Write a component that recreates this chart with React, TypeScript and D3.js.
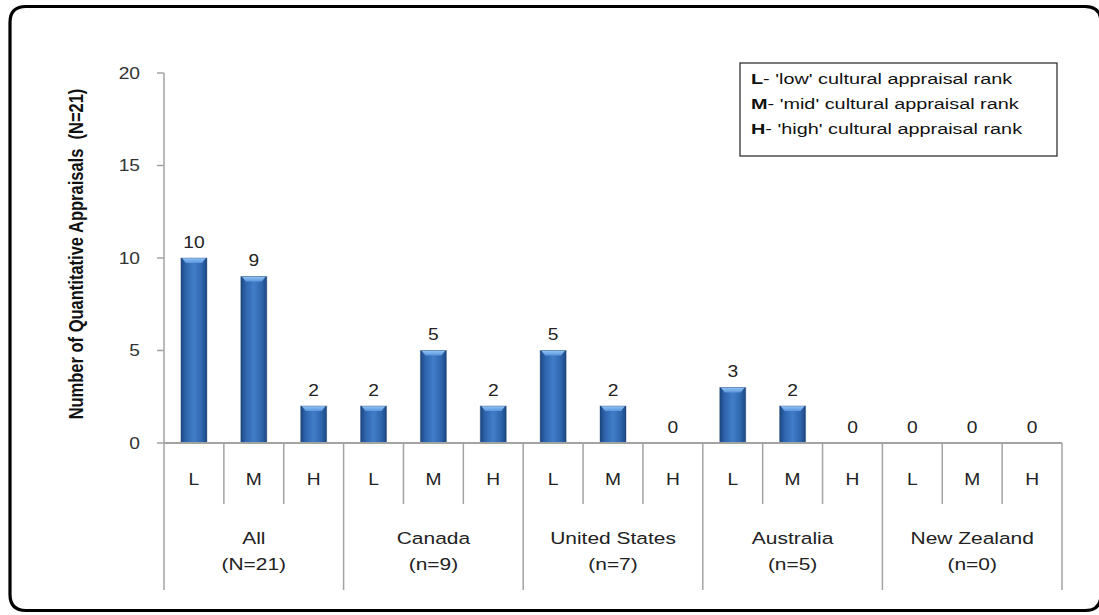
import React from "react";
import * as d3 from "d3";

const groups = ["All", "Canada", "United States", "Australia", "New Zealand"];
const groupCounts = ["(N=21)", "(n=9)", "(n=7)", "(n=5)", "(n=0)"];
const ranks = ["L", "M", "H"];
const counts = [
  [10, 9, 2],
  [2, 5, 2],
  [5, 2, 0],
  [3, 2, 0],
  [0, 0, 0],
];
const yTicks = [0, 5, 10, 15, 20];
const legendLines = [
  { key: "L", text: "- 'low' cultural appraisal rank" },
  { key: "M", text: "- 'mid' cultural appraisal rank" },
  { key: "H", text: "- 'high' cultural appraisal rank" },
];

const W = 1099;
const H = 615;
const left = 164;
const right = 1062;
const top = 73;
const bottom = 443;
const FONT = "'Liberation Sans', Arial, sans-serif";
const SX = 1.2; // wide lettering

type TProps = {
  x: number;
  y: number;
  size: number;
  sx?: number;
  anchor?: "start" | "middle" | "end";
  weight?: string;
  fill?: string;
  children: React.ReactNode;
};

function T({ x, y, size, sx = SX, anchor = "middle", weight = "normal", fill = "#222", children }: TProps) {
  return (
    <text
      transform={`translate(${x},${y}) scale(${sx},1)`}
      dy="0.36em"
      textAnchor={anchor}
      fontSize={size}
      fontWeight={weight}
      fill={fill}
      style={{ whiteSpace: "pre" }}
    >
      {children}
    </text>
  );
}

export default function App() {
  const cells = groups.flatMap((g, gi) =>
    ranks.map((r, ri) => ({ id: `${gi}-${ri}`, group: gi, rank: r, value: counts[gi][ri] }))
  );
  const x = d3.scaleBand<string>().domain(cells.map((c) => c.id)).range([left, right]);
  const y = d3.scaleLinear().domain([0, 20]).range([bottom, top]);
  const bw = x.bandwidth();
  const barW = 26;
  const groupW = bw * 3;
  const axisColor = "#a3a3a3";

  const fx0 = 10;
  const fy0 = 6.5;
  const fx1 = 1101;
  const fy1 = 610.5;
  const r = 16;
  const framePath = `M${fx0 + r},${fy0} H${fx1 - r} Q${fx1},${fy0} ${fx1},${fy0 + r} V${fy1 - r} Q${fx1},${fy1} ${fx1 - r},${fy1} H${fx0 + r} Q${fx0},${fy1} ${fx0},${fy1 - r} V${fy0 + r} Q${fx0},${fy0} ${fx0 + r},${fy0} Z`;

  return (
    <svg
      width={W}
      height={H}
      style={{ position: "absolute", left: 0, top: 0, display: "block", background: "#fff" }}
      fontFamily={FONT}
    >
      <defs>
        <linearGradient id="barFill" x1="0" x2="1" y1="0" y2="0">
          <stop offset="0" stopColor="#1c4680" />
          <stop offset="0.2" stopColor="#2f66ae" />
          <stop offset="0.5" stopColor="#417dc8" />
          <stop offset="0.8" stopColor="#2f66ae" />
          <stop offset="1" stopColor="#1c4680" />
        </linearGradient>
        <linearGradient id="barTop" x1="0" x2="0" y1="0" y2="1">
          <stop offset="0" stopColor="#93c4f6" />
          <stop offset="1" stopColor="#5a95dc" />
        </linearGradient>
      </defs>

      {/* rounded outer frame */}
      <path d={framePath} fill="none" stroke="#000" strokeWidth={3.2} />

      {/* y axis */}
      <line x1={left} x2={left} y1={top} y2={bottom} stroke={axisColor} strokeWidth={1.5} />
      {yTicks.map((t) => (
        <g key={t}>
          <line x1={left - 7} x2={left} y1={y(t)} y2={y(t)} stroke={axisColor} strokeWidth={1.5} />
          <T x={left - 24} y={y(t)} size={16} anchor="end" fill="#333">
            {t}
          </T>
        </g>
      ))}
      <text
        transform={`translate(76,${(top + bottom) / 2 - 4}) rotate(-90) scale(1,${SX})`}
        dy="0.36em"
        textAnchor="middle"
        fontSize={16.5}
        fontWeight="bold"
        fill="#111"
        style={{ whiteSpace: "pre" }}
      >
        {"Number of Quantitative Appraisals  (N=21)"}
      </text>

      {/* bars */}
      {cells.map((c) => {
        const cx = (x(c.id) as number) + bw / 2;
        const yt = y(c.value);
        const h = bottom - yt;
        const bx = cx - barW / 2;
        return (
          <g key={c.id}>
            {c.value > 0 && (
              <g>
                <rect x={bx} y={yt} width={barW} height={h} fill="url(#barFill)" />
                <polygon
                  points={`${bx + 1},${yt} ${bx + barW - 1},${yt} ${bx + barW - 5},${yt + 5} ${bx + 5},${yt + 5}`}
                  fill="url(#barTop)"
                />
                <rect
                  x={bx}
                  y={yt}
                  width={barW}
                  height={h}
                  fill="none"
                  stroke="#183c6e"
                  strokeOpacity={0.35}
                  strokeWidth={1}
                />
              </g>
            )}
            <T x={cx} y={yt - 16} size={16}>
              {c.value}
            </T>
          </g>
        );
      })}

      {/* x axis with nested category labels */}
      <line x1={left} x2={right} y1={bottom} y2={bottom} stroke={axisColor} strokeWidth={2} />
      {cells.map((c, i) => {
        const x0 = x(c.id) as number;
        const isGroupStart = i % 3 === 0;
        return (
          <g key={`lab-${c.id}`}>
            {!isGroupStart && (
              <line x1={x0} x2={x0} y1={bottom} y2={504} stroke={axisColor} strokeWidth={1.5} />
            )}
            <T x={x0 + bw / 2} y={479} size={16}>
              {c.rank}
            </T>
          </g>
        );
      })}
      {groups.map((g, gi) => {
        const gx = left + gi * groupW;
        return (
          <g key={g}>
            <line x1={gx} x2={gx} y1={bottom} y2={590} stroke={axisColor} strokeWidth={1.5} />
            <T x={gx + groupW / 2} y={538} size={16.5} sx={1.27}>
              {g}
            </T>
            <T x={gx + groupW / 2} y={564} size={16.5} sx={1.27}>
              {groupCounts[gi]}
            </T>
          </g>
        );
      })}
      <line x1={right} x2={right} y1={bottom} y2={590} stroke={axisColor} strokeWidth={1.5} />

      {/* legend */}
      <rect x={740} y={63} width={317} height={93} fill="#fff" stroke="#222" strokeWidth={1.2} />
      {legendLines.map((l, i) => (
        <text
          key={l.key}
          transform={`translate(751,${78 + i * 25}) scale(1.28,1)`}
          dy="0.36em"
          fontSize={15.5}
          fill="#111"
          style={{ whiteSpace: "pre" }}
        >
          <tspan fontWeight="bold">{l.key}</tspan>
          <tspan>{l.text}</tspan>
        </text>
      ))}
    </svg>
  );
}
